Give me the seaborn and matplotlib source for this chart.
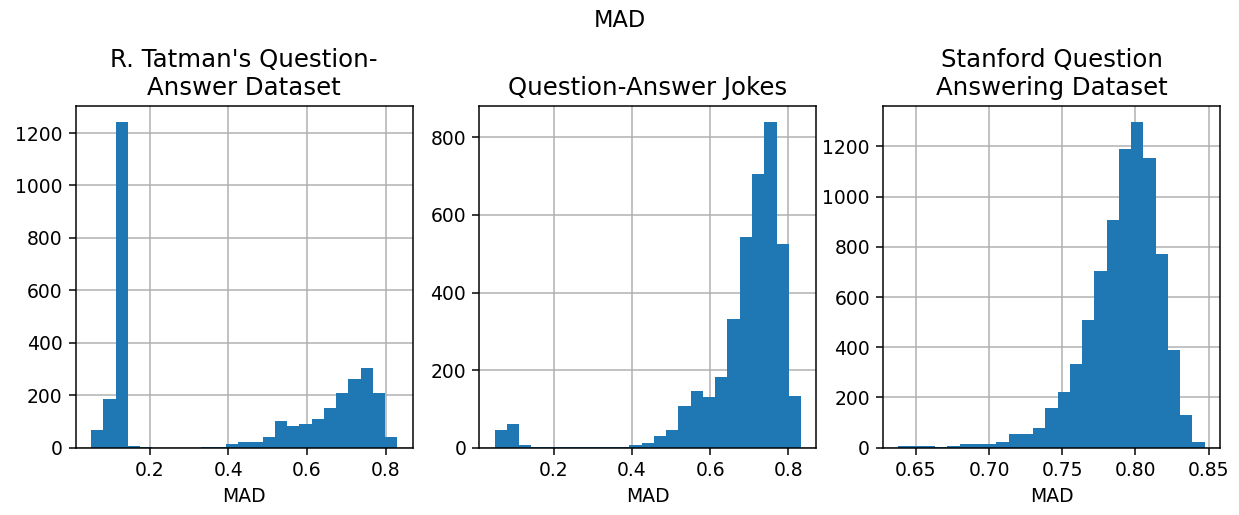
import numpy as np
import pandas as pd
import matplotlib
matplotlib.use("Agg")
import matplotlib.pyplot as plt
from matplotlib.ticker import MultipleLocator
import seaborn as sns

# ---- data ----
titles = ["R. Tatman's Question-\nAnswer Dataset",
          "Question-Answer Jokes",
          "Stanford Question\nAnswering Dataset"]
x_label = "MAD"
sup_title = "MAD"

range_tatman = (0.051, 0.830)
counts_tatman = [67, 186, 1241, 6, 1, 0, 0, 0, 0, 4, 4, 16, 23, 23, 40,
                 102, 84, 92, 108, 153, 209, 261, 305, 209, 40]

range_jokes = (0.049, 0.832)
counts_jokes = [46, 61, 7, 3, 1, 3, 1, 3, 3, 3, 3, 7, 11, 30, 46,
                108, 145, 130, 183, 331, 543, 705, 839, 526, 133]

range_squad = (0.638, 0.8473)
counts_squad = [7, 7, 7, 1, 5, 13, 13, 13, 24, 55, 55, 77, 160, 223, 332,
                509, 702, 908, 1191, 1296, 1155, 772, 389, 130, 24]

xticks_list = [[0.2, 0.4, 0.6, 0.8],
               [0.2, 0.4, 0.6, 0.8],
               [0.65, 0.70, 0.75, 0.80, 0.85]]
ytick_steps = [200, 200, 200]

panels = [(range_tatman, counts_tatman),
          (range_jokes, counts_jokes),
          (range_squad, counts_squad)]

# ---- figure ----
DPI = 135
fig = plt.figure(figsize=(1239 / DPI, 515 / DPI), dpi=DPI)
plt.rcParams['font.family'] = ['DejaVu Sans']

left, right = 75.7 / 1239, 1220 / 1239
bottom, top = 1 - 447.7 / 515, 1 - 106 / 515
gap = 66.7 / 1239
w = (right - left - 2 * gap) / 3

for i, ((rng, counts), title, xt, ys) in enumerate(
        zip(panels, titles, xticks_list, ytick_steps)):
    ax = fig.add_axes([left + i * (w + gap), bottom, w, top - bottom])
    n = len(counts)
    edges = [float(e) for e in np.linspace(rng[0], rng[1], n + 1)]
    centers = [(a + b) / 2 for a, b in zip(edges[:-1], edges[1:])]
    df = pd.DataFrame({"MAD": centers, "count": counts})
    sns.histplot(data=df, x="MAD", weights="count", bins=edges, ax=ax,
                 color="#1f77b4", alpha=1.0, linewidth=0, element="bars")
    ax.set_axisbelow(True)
    ax.grid(True, color="#b0b0b0", linewidth=0.8)
    ax.set_title(title, fontsize=13)
    ax.set_xlabel(x_label, fontsize=10)
    ax.set_ylabel("")
    ax.set_xticks(xt)
    if i == 2:
        ax.set_xticklabels([f"{v:.2f}" for v in xt])
    else:
        ax.set_xticklabels([f"{v:.1f}" for v in xt])
    ax.yaxis.set_major_locator(MultipleLocator(ys))
    ax.tick_params(labelsize=10)
    ax.margins(x=0.05)
    ax.set_ylim(0, max(counts) * 1.05)

fig.suptitle(sup_title, fontsize=12, y=0.982)
fig.savefig("out.png", dpi=DPI)
